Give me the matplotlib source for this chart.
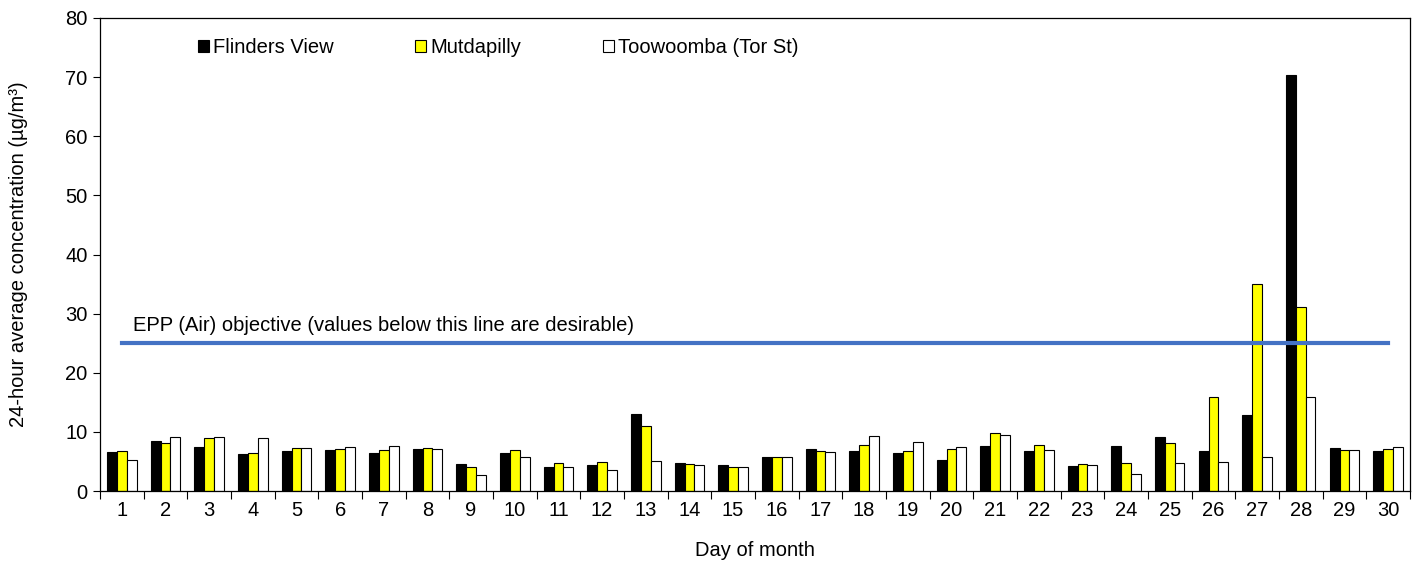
import matplotlib.pyplot as plt
import numpy as np
from matplotlib.patches import Patch
from matplotlib.legend import Legend

plt.rcParams['font.family'] = ['Liberation Sans', 'DejaVu Sans']

# daily 24-hour averages (ug/m3)
dias = list(range(1, 31))
flinders_view = [6.6, 8.4, 7.4, 6.3, 6.7, 7.0, 6.5, 7.1, 4.6, 6.4,
                 4.1, 4.4, 13.1, 4.7, 4.4, 5.8, 7.1, 6.8, 6.4, 5.2,
                 7.6, 6.8, 4.2, 7.6, 9.2, 6.8, 12.8, 70.3, 7.3, 6.8]
mutdapilly = [6.8, 8.2, 8.9, 6.4, 7.2, 7.1, 6.9, 7.2, 4.1, 6.9,
              4.7, 4.9, 11.0, 4.6, 4.0, 5.7, 6.8, 7.7, 6.8, 7.1,
              9.8, 7.7, 4.5, 4.8, 8.1, 15.9, 35.0, 31.1, 6.9, 7.1]
toowoomba = [5.2, 9.1, 9.1, 8.9, 7.2, 7.4, 7.6, 7.1, 2.7, 5.7,
             4.1, 3.6, 5.1, 4.4, 4.0, 5.8, 6.6, 9.3, 8.3, 7.4,
             9.4, 7.0, 4.4, 2.8, 4.7, 4.9, 5.8, 15.9, 6.9, 7.4]
series_nombres = ['Flinders View', 'Mutdapilly', 'Toowoomba (Tor St)']
series_colores = ['black', '#ffff00', 'white']
objetivo = 25

fs = 14.5

fig = plt.figure(figsize=(14.18, 5.62), dpi=100)
ax = fig.add_axes([0.0705, 0.1263, 0.9238, 0.8417])

x = np.arange(len(dias))
ancho = 0.225
valores = [flinders_view, mutdapilly, toowoomba]
for i, (vals, color) in enumerate(zip(valores, series_colores)):
    ax.bar(x + (i - 1) * ancho, vals, width=ancho, color=color,
           edgecolor='black', linewidth=0.8, zorder=2)

# linea del objetivo EPP
ax.plot([x[0], x[-1]], [objetivo, objetivo], color='#4472c4', linewidth=3, zorder=3)
ax.text(0.25, objetivo + 1.4, 'EPP (Air) objective (values below this line are desirable)',
        fontsize=fs, ha='left', va='bottom')

ax.set_xlim(-0.5, len(dias) - 0.5)
ax.set_ylim(0, 80)
ax.set_yticks(np.arange(0, 81, 10))
ax.set_xticks(np.arange(-0.5, len(dias), 1.0))
ax.set_xticklabels([])
ax.set_xticks(x, minor=True)
ax.set_xticklabels([str(d) for d in dias], minor=True)
ax.tick_params(axis='x', which='major', direction='out', length=6, width=0.8)
ax.tick_params(axis='x', which='minor', length=0, pad=7, labelsize=fs)
ax.tick_params(axis='y', direction='out', length=5, width=0.8, labelsize=fs, pad=4)
for lado in ax.spines.values():
    lado.set_linewidth(0.9)

ax.set_xlabel('Day of month', fontsize=fs, labelpad=15)
ax.set_ylabel('24-hour average concentration (µg/m³)', fontsize=fs, labelpad=27)

# leyenda: una entrada por serie, cada una en su posicion
posiciones = [0.0748, 0.2405, 0.384]
for nombre, color, pos in zip(series_nombres, series_colores, posiciones):
    h = Patch(facecolor=color, edgecolor='black', linewidth=0.8)
    leg = Legend(ax, [h], [nombre], loc='center left',
                 bbox_to_anchor=(pos, 0.938), frameon=False, fontsize=fs,
                 handlelength=0.55, handleheight=0.55, handletextpad=0.2,
                 borderaxespad=0, borderpad=0)
    ax.add_artist(leg)

fig.savefig('out.png', dpi=100)
